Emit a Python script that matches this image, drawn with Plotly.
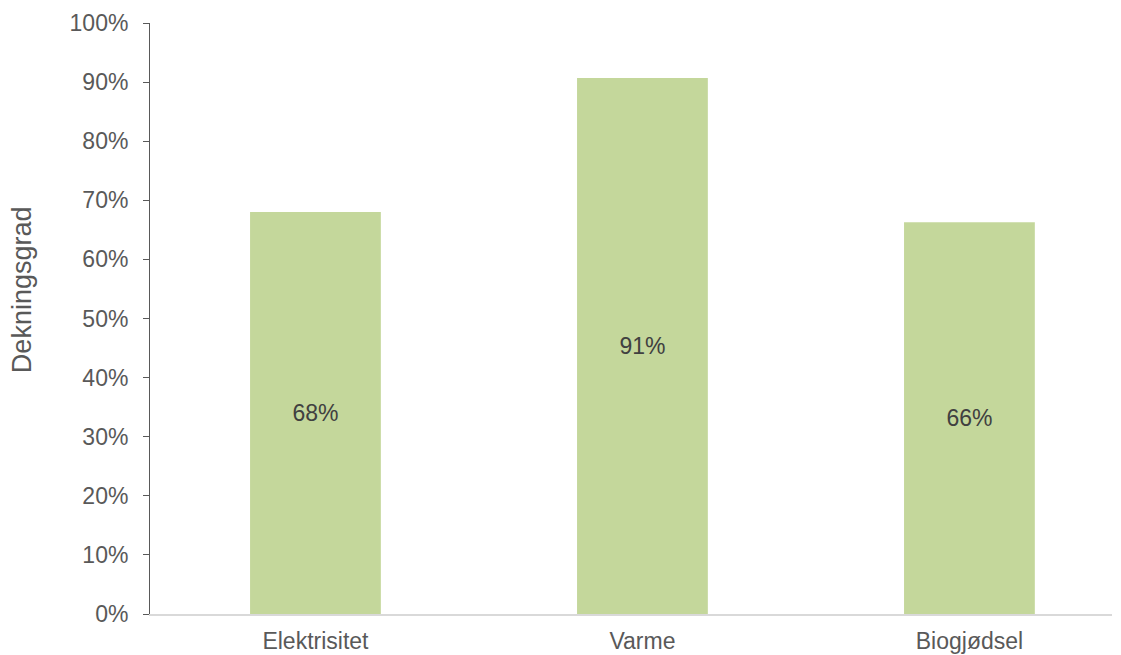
import plotly.graph_objects as go

categories = ["Elektrisitet", "Varme", "Biogjødsel"]
values = [0.68, 0.907, 0.663]
labels = ["68%", "91%", "66%"]
y_title = "Dekningsgrad"

fig = go.Figure()
fig.add_trace(go.Bar(
    x=list(range(len(categories))),
    y=values,
    text=labels,
    textposition="inside",
    insidetextanchor="middle",
    textfont=dict(family="Liberation Sans, Arial", size=23, color="#404040"),
    marker=dict(color="#c4d79b", line=dict(width=0)),
    width=0.40,
))

fig.update_layout(
    width=1121, height=655,
    margin=dict(l=142, r=17, t=15, b=49),
    paper_bgcolor="white", plot_bgcolor="white",
    font=dict(family="Liberation Sans, Arial", size=23, color="#595959"),
    showlegend=False,
    uniformtext=dict(mode="show", minsize=10),
    xaxis=dict(
        tickmode="array",
        tickvals=list(range(len(categories))),
        ticktext=categories,
        range=[-0.506, 2.436],
        showline=True, linecolor="#d9d9d9", linewidth=1.5,
        showgrid=False, zeroline=False, ticks="",
        ticklabelstandoff=6,
        automargin=False,
        tickfont=dict(size=23, color="#595959"),
    ),
    yaxis=dict(
        range=[0, 1],
        dtick=0.1,
        tickformat=".0%",
        showline=True, linecolor="#595959", linewidth=1,
        ticks="outside", ticklen=6, tickcolor="#595959",
        ticklabelstandoff=10,
        showgrid=False, zeroline=False,
        automargin=False,
        tickfont=dict(size=23, color="#595959"),
    ),
    annotations=[dict(
        text=y_title, textangle=-90,
        xref="paper", x=0, xshift=-128, xanchor="center",
        yref="paper", y=0.548, yanchor="middle",
        showarrow=False,
        font=dict(size=27, color="#595959"),
    )],
)

fig.write_html("out.html")
